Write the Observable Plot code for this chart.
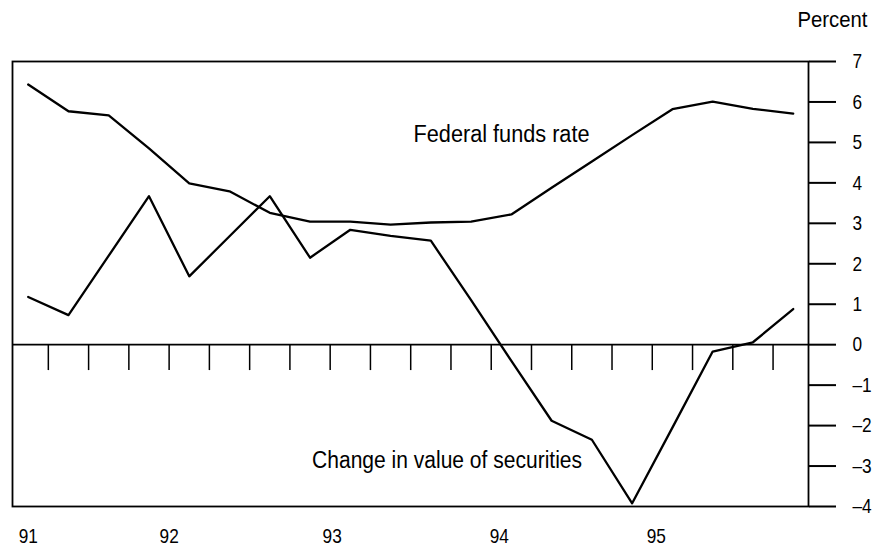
<!DOCTYPE html>
<html>
<head>
<meta charset="utf-8">
<script src="https://cdn.jsdelivr.net/npm/d3@7"></script>
<script src="https://cdn.jsdelivr.net/npm/@observablehq/plot@0.6"></script>
<style>
  html, body { margin: 0; padding: 0; background: #fff; }
  #chart svg { display: block; }
</style>
</head>
<body>
<div id="chart"></div>
<script>
// Quarterly observations, 1991Q1 .. 1995Q4
const quarters = ["91Q1","91Q2","91Q3","91Q4","92Q1","92Q2","92Q3","92Q4",
                  "93Q1","93Q2","93Q3","93Q4","94Q1","94Q2","94Q3","94Q4",
                  "95Q1","95Q2","95Q3","95Q4"];
// Federal funds rate (percent)
const fedFunds = [6.43, 5.77, 5.67, 4.85, 3.99, 3.79, 3.26, 3.04, 3.04, 2.97,
                  3.02, 3.04, 3.22, 3.88, 4.53, 5.18, 5.82, 6.01, 5.83, 5.71];
// Change in value of securities (percent)
const securities = [1.18, 0.73, 2.20, 3.67, 1.69, 2.68, 3.67, 2.15, 2.84, 2.69,
                    2.57, 1.10, -0.40, -1.88, -2.35, -3.92, -2.05, -0.17, 0.06, 0.88];
// Axis labels
const yTicks = [-4, -3, -2, -1, 0, 1, 2, 3, 4, 5, 6, 7];
const yearLabels = ["91", "92", "93", "94", "95"];
const yearPositions = [0, 3.5, 7.55, 11.7, 15.6]; // in quarter index units
const quarterBoundaries = d3.range(0.5, quarters.length - 1, 1);

const fedData = quarters.map((q, i) => ({i, q, v: fedFunds[i]}));
const secData = quarters.map((q, i) => ({i, q, v: securities[i]}));

const font = "'Liberation Sans', Arial, sans-serif";

const chart = Plot.plot({
  width: 876,
  height: 548,
  marginLeft: 12,
  marginRight: 68,
  marginTop: 61,
  marginBottom: 42,
  style: {fontFamily: font, fontSize: "21px", color: "#000", background: "#fff"},
  x: {domain: [-0.39, 19.38]},
  y: {domain: [-4, 7]},
  marks: [
    Plot.frame({stroke: "#000", strokeWidth: 1.8}),
    Plot.ruleY([0], {stroke: "#000", strokeWidth: 1.8}),
    Plot.ruleX(quarterBoundaries, {x: d => d, y1: 0, y2: -0.64, stroke: "#000", strokeWidth: 1.5}),
    Plot.line(fedData, {x: "i", y: "v", stroke: "#000", strokeWidth: 2.3}),
    Plot.line(secData, {x: "i", y: "v", stroke: "#000", strokeWidth: 2.3}),
    Plot.axisY(yTicks, {anchor: "right", tickSize: 27, tickPadding: 17, strokeWidth: 2,
                        fontSize: 21, tickFormat: d => d < 0 ? "\u2013" + Math.abs(d) : String(d), label: null}),
    Plot.axisX(yearPositions, {anchor: "bottom", tickSize: 0, tickPadding: 22, fontSize: 21,
                               tickFormat: (d, i) => yearLabels[i], label: null}),
    Plot.text(["Federal funds rate"], {x: 9.57, y: 5.19, textAnchor: "start", lineAnchor: "middle", fontSize: 23.5}),
    Plot.text(["Change in value of securities"], {x: 7.05, y: -2.85, textAnchor: "start", lineAnchor: "middle", fontSize: 23.5}),
    Plot.text(["Percent"], {frameAnchor: "top-right", textAnchor: "end", lineAnchor: "middle", dx: 59, dy: -42, fontSize: 22.5})
  ]
});
document.getElementById("chart").appendChild(chart);

// Condense all text horizontally to mimic the narrow typeface of the original
const targetWidths = {"Federal funds rate": 176, "Change in value of securities": 270, "Percent": 70};
chart.querySelectorAll("text").forEach(t => {
  const len = t.getComputedTextLength();
  if (!len) return;
  const label = t.textContent;
  const w = targetWidths[label] !== undefined ? targetWidths[label] : len * 0.82;
  t.setAttribute("textLength", w);
  t.setAttribute("lengthAdjust", "spacingAndGlyphs");
});
</script>
</body>
</html>
